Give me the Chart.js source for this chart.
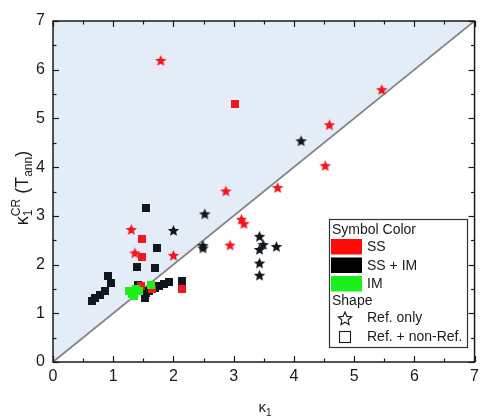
<!DOCTYPE html>
<html><head><meta charset="utf-8">
<script src="https://cdn.jsdelivr.net/npm/chart.js@4/dist/chart.umd.min.js"></script>
<style>html,body{margin:0;padding:0;background:#fff}#wrap{width:484px;height:417px}</style>
</head><body><div id="wrap"><canvas id="c" width="484" height="417"></canvas></div>
<script>
// ---- data ----
const xTickValues = [0,1,2,3,4,5,6,7];
const yTickValues = [0,1,2,3,4,5,6,7];
const diagX = [0, 7];
const diagY = [0, 7];
// SS, Ref. only (red stars)
const ssStarX = [1.79, 5.46, 4.59, 4.52, 3.73, 2.87, 3.13, 3.17, 2.94, 1.30, 1.36, 2.00];
const ssStarY = [6.19, 5.59, 4.87, 4.03, 3.58, 3.51, 2.93, 2.84, 2.40, 2.72, 2.24, 2.19];
// SS + IM, Ref. only (black stars)
const ssimStarX = [4.12, 2.52, 2.00, 2.49, 2.49, 3.43, 3.49, 3.43, 3.71, 3.43, 3.43];
const ssimStarY = [4.54, 3.04, 2.70, 2.39, 2.34, 2.58, 2.41, 2.31, 2.37, 2.03, 1.78];
// SS, Ref. + non-Ref. (red squares)
const ssSqX = [3.02, 1.47, 1.47, 2.14, 1.46, 1.65];
const ssSqY = [5.30, 2.53, 2.16, 1.49, 1.57, 1.50];
// SS + IM, Ref. + non-Ref. (black squares)
const ssimSqX = [1.54, 1.73, 1.40, 1.70, 2.15, 1.93, 1.85, 1.76, 1.70, 0.92, 0.97, 0.86, 0.78, 0.70, 0.64, 1.52, 1.54, 1.41, 1.60];
const ssimSqY = [3.16, 2.35, 1.94, 1.92, 1.67, 1.64, 1.60, 1.56, 1.52, 1.77, 1.62, 1.45, 1.37, 1.31, 1.26, 1.32, 1.42, 1.59, 1.45];
// IM, Ref. + non-Ref. (green squares)
const imSqX = [1.27, 1.35, 1.43, 1.38, 1.62, 1.32];
const imSqY = [1.45, 1.35, 1.45, 1.49, 1.58, 1.40];

const legendColors = ['SS', 'SS + IM', 'IM'];
const legendShapes = ['Ref. only', 'Ref. + non-Ref.'];

// ---- styles ----
const RED = '#f0181e', BLACK = '#10171e', GREEN = '#1cf01c';
const FONT = "'Liberation Sans', Arial, sans-serif";

function starPath(g, cx, cy, R, r){
  g.beginPath();
  for (let i=0;i<10;i++){
    const ang = -Math.PI/2 + i*Math.PI/5;
    const rad = i%2===0 ? R : r;
    const px = cx + rad*Math.cos(ang), py = cy + rad*Math.sin(ang);
    if(i===0) g.moveTo(px,py); else g.lineTo(px,py);
  }
  g.closePath();
}
function starImg(color){
  const c=document.createElement('canvas'); c.width=c.height=13;
  const g=c.getContext('2d'); g.fillStyle=color;
  starPath(g,6.5,7,6,2.7); g.fill(); return c;
}
function sqImg(color){
  const c=document.createElement('canvas'); c.width=c.height=8;
  const g=c.getContext('2d'); g.fillStyle=color; g.fillRect(0,0,8,8); return c;
}
const zip=(xs,ys)=>xs.map((v,i)=>({x:v,y:ys[i]}));

function drawParts(ctx, parts, big, small){
  // returns total width; draws if draw flag
  let w=0;
  const measure=()=>{
    w=0;
    for(const p of parts){
      if(p.stack){
        ctx.font=small+'px '+FONT;
        w+=Math.max(...p.stack.map(s=>ctx.measureText(s.t).width));
      } else {
        ctx.font=(p.small?small:big)+'px '+FONT;
        w+=ctx.measureText(p.t).width;
      }
    }
    return w;
  };
  const total=measure();
  let x=-total/2;
  for(const p of parts){
    if(p.stack){
      ctx.font=small+'px '+FONT;
      let mw=0;
      for(const s of p.stack){ ctx.fillText(s.t,x,s.dy); mw=Math.max(mw,ctx.measureText(s.t).width); }
      x+=mw;
    } else {
      ctx.font=(p.small?small:big)+'px '+FONT;
      ctx.fillText(p.t,x,p.dy||0);
      x+=ctx.measureText(p.t).width;
    }
  }
}

const decor = {
  id:'decor',
  afterDraw(chart){
    const {ctx, chartArea:a, scales:{x, y}} = chart;
    ctx.save();
    ctx.strokeStyle='#1a1a1a'; ctx.lineWidth=1.2;
    const line=(x1,y1,x2,y2)=>{ctx.beginPath();ctx.moveTo(x1,y1);ctx.lineTo(x2,y2);ctx.stroke();};
    for(let k=0;k<=14;k++){
      const v=k/2, L=(k%2===0)?6:3.5;
      const px=Math.round(x.getPixelForValue(v))+0.5;
      line(px,a.bottom,px,a.bottom-L); line(px,a.top,px,a.top+L);
      const py=Math.round(y.getPixelForValue(v))+0.5;
      line(a.left,py,a.left+L,py); line(a.right,py,a.right-L,py);
    }
    ctx.lineWidth=1.5;
    ctx.strokeRect(a.left,a.top,a.right-a.left,a.bottom-a.top);

    // legend
    const lx=329.5, ly=219.5, lw=138, lh=128;
    ctx.fillStyle='#fff'; ctx.fillRect(lx,ly,lw,lh);
    ctx.strokeStyle='#333'; ctx.lineWidth=1.2; ctx.strokeRect(lx,ly,lw,lh);
    ctx.fillStyle='#1a1a1a'; ctx.font='14px '+FONT; ctx.textBaseline='middle'; ctx.textAlign='left';
    ctx.fillText('Symbol Color',332,230);
    const sw=[RED.replace('#f0181e','#ff0a0a'),'#000000',GREEN];
    const tops=[239,257.5,276];
    for(let i=0;i<3;i++){
      ctx.fillStyle=sw[i]; ctx.fillRect(331,tops[i],31,15.5);
      ctx.fillStyle='#1a1a1a'; ctx.fillText(legendColors[i],367,tops[i]+8.5);
    }
    ctx.fillText('Shape',332,301);
    ctx.strokeStyle='#1a1a1a'; ctx.lineWidth=1.1;
    starPath(ctx,345,319,7,3.2); ctx.stroke();
    ctx.fillText(legendShapes[0],367,318.5);
    ctx.strokeRect(339.5,331.5,11,11);
    ctx.fillText(legendShapes[1],367,337);

    // axis titles
    ctx.fillStyle='#1a1a1a'; ctx.textBaseline='alphabetic';
    ctx.save(); ctx.translate(28,188); ctx.rotate(-Math.PI/2);
    drawParts(ctx,[
      {t:'\u03BA'},
      {stack:[{t:'1',dy:4},{t:'CR',dy:-8}]},
      {t:' ('},{t:'T'},{t:'ann',small:true,dy:4},{t:')'}
    ],18,12);
    ctx.restore();
    ctx.save(); ctx.translate(265,412);
    drawParts(ctx,[{t:'\u03BA'},{t:'1',small:true,dy:4}],15,10);
    ctx.restore();
    ctx.restore();
  }
};

new Chart(document.getElementById('c'), {
  type:'scatter',
  data:{datasets:[
    {type:'line', data:zip(diagX,diagY), borderColor:'#858585', borderWidth:1.8, pointRadius:0, fill:'end', backgroundColor:'#e4edf7', order:10, showLine:true},
    {data:zip(ssimSqX,ssimSqY), pointStyle:sqImg(BLACK), order:5},
    {data:zip(ssSqX,ssSqY), pointStyle:sqImg(RED), order:4},
    {data:zip(imSqX,imSqY), pointStyle:sqImg(GREEN), order:3},
    {data:zip(ssimStarX,ssimStarY), pointStyle:starImg(BLACK), order:2},
    {data:zip(ssStarX,ssStarY), pointStyle:starImg(RED), order:1}
  ]},
  options:{
    responsive:false, animation:false, devicePixelRatio:1,
    layout:{padding:{left:0,top:21,right:7,bottom:0}},
    plugins:{legend:{display:false}, tooltip:{enabled:false}},
    events:[],
    scales:{
      x:{type:'linear',min:0,max:7,
        afterBuildTicks(s){s.ticks=xTickValues.map(v=>({value:v}));},
        ticks:{font:{size:16,family:FONT},color:'#1a1a1a',padding:5,maxRotation:0},
        grid:{display:false,drawTicks:false}, border:{display:false},
        afterFit(s){s.height=55;}},
      y:{type:'linear',min:0,max:7,
        afterBuildTicks(s){s.ticks=yTickValues.map(v=>({value:v}));},
        ticks:{font:{size:16,family:FONT},color:'#1a1a1a',padding:8},
        grid:{display:false,drawTicks:false}, border:{display:false},
        afterFit(s){s.width=53;}}
    }
  },
  plugins:[decor]
});
</script>
</body></html>
